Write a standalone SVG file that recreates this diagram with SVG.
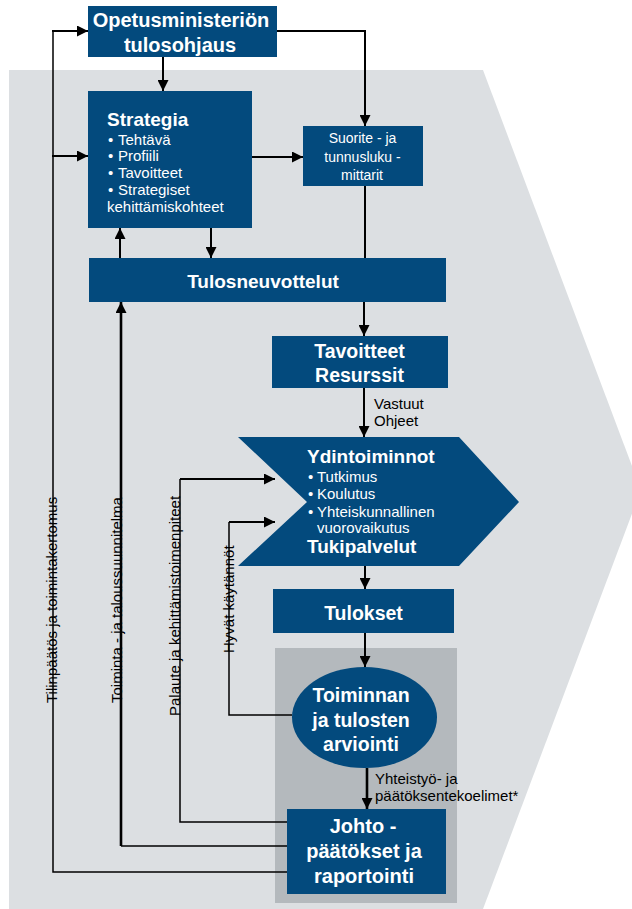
<svg xmlns="http://www.w3.org/2000/svg" width="632" height="909" viewBox="0 0 632 909">
<style>
.box{fill:#034a7d}
.t{font-family:"Liberation Sans",Arial,sans-serif;fill:#fff}
.b{font-weight:bold;font-size:19.5px}
.n{font-size:15px}
.s{font-size:14px}
.lbl{font-family:"Liberation Sans",Arial,sans-serif;font-size:15px;fill:#000}
.c{fill:none;stroke:#000;stroke-width:2}
.thin{fill:none;stroke:#000;stroke-width:1.5}
.thick{fill:none;stroke:#000;stroke-width:2.6}
</style>
<defs>
<marker id="ah" markerUnits="userSpaceOnUse" markerWidth="11" markerHeight="11" refX="11" refY="5.5" orient="auto">
<path d="M0,0 L11,5.5 L0,11 z" fill="#000"/>
</marker>
</defs>
<rect width="632" height="909" fill="#fff"/>
<polygon id="background" points="9,70 483,70 641,490 483,909 9,909" fill="#dcdfe2"/>
<rect id="evaluation-area" x="275" y="648" width="182" height="255" fill="#b4b9bd"/>

<g id="connectors">
<path class="c" d="M163,57 V91" marker-end="url(#ah)"/>
<path class="c" d="M277,31 H365 V126" marker-end="url(#ah)"/>
<path class="c" d="M252,157 H303" marker-end="url(#ah)"/>
<path class="thin" d="M287,872 H53 V31"/>
<path class="c" d="M52,31 H88" marker-end="url(#ah)"/>
<path class="c" d="M52,156 H88" marker-end="url(#ah)"/>
<path class="c" d="M120,258 V228" marker-end="url(#ah)"/>
<path class="c" d="M211,228 V258" marker-end="url(#ah)"/>
<path class="c" d="M365,186 V258"/>
<path class="c" d="M364,302 V336" marker-end="url(#ah)"/>
<path class="c" d="M364,388 V437" marker-end="url(#ah)"/>
<path class="c" d="M365,566 V589" marker-end="url(#ah)"/>
<path class="c" d="M365,633 V667" marker-end="url(#ah)"/>
<path class="thick" d="M367,768 V809" marker-end="url(#ah)"/>
<path class="thin" d="M287,846 H121"/>
<path class="thick" d="M121,846 V302" marker-end="url(#ah)"/>
<path class="thin" d="M287,822 H180 V479"/>
<path class="c" d="M180,479 H275" marker-end="url(#ah)"/>
<path class="thin" d="M292,715 H229 V522"/>
<path class="c" d="M229,522 H275" marker-end="url(#ah)"/>
<text class="lbl" x="374" y="409">Vastuut</text>
<text class="lbl" x="374" y="426">Ohjeet</text>
<text class="lbl" x="375" y="784">Yhteistyö- ja</text>
<text class="lbl" x="375" y="801">päätöksentekoelimet*</text>
<text class="lbl" transform="translate(57,703) rotate(-90)">Tilinpäätös ja toimintakertomus</text>
<text class="lbl" transform="translate(122,703) rotate(-90)">Toiminta - ja taloussuunnitelma</text>
<text class="lbl" transform="translate(180,716) rotate(-90)">Palaute ja kehittämistoimenpiteet</text>
<text class="lbl" transform="translate(234,653) rotate(-90)">Hyvät käytännöt</text>
</g>

<g id="opetusministerio">
<rect class="box" x="88" y="6" width="189" height="51"/>
<text class="t b" x="181" y="27" text-anchor="middle" style="font-size:20px">Opetusministeriön</text>
<text class="t b" x="180" y="52" text-anchor="middle" style="font-size:20px">tulosohjaus</text>
</g>

<g id="strategia">
<rect class="box" x="88" y="91" width="164" height="137"/>
<text class="t b" x="107" y="126" style="font-size:19px">Strategia</text>
<text class="t n" x="108" y="145">•</text><text class="t n" x="118" y="145">Tehtävä</text>
<text class="t n" x="108" y="161">•</text><text class="t n" x="118" y="161">Profiili</text>
<text class="t n" x="108" y="178">•</text><text class="t n" x="118" y="178">Tavoitteet</text>
<text class="t n" x="108" y="195">•</text><text class="t n" x="118" y="195">Strategiset</text>
<text class="t n" x="107" y="212">kehittämiskohteet</text>
</g>

<g id="suorite">
<rect class="box" x="303" y="126" width="120" height="60"/>
<text class="t s" x="362.5" y="143" text-anchor="middle">Suorite - ja</text>
<text class="t s" x="362.5" y="162" text-anchor="middle">tunnusluku -</text>
<text class="t s" x="362" y="180" text-anchor="middle">mittarit</text>
</g>

<g id="tulosneuvottelut">
<rect class="box" x="89" y="258" width="357" height="44"/>
<text class="t b" x="263" y="288" text-anchor="middle" style="font-size:19px">Tulosneuvottelut</text>
</g>

<g id="tavoitteet">
<rect class="box" x="272" y="336" width="176" height="52"/>
<text class="t b" x="359.5" y="358" text-anchor="middle">Tavoitteet</text>
<text class="t b" x="359.5" y="382" text-anchor="middle">Resurssit</text>
</g>

<g id="ydintoiminnot">
<polygon class="box" points="238,437 459,437 519,502 459,566 238,566 307,502"/>
<text class="t b" x="307" y="463" style="font-size:19px">Ydintoiminnot</text>
<text class="t n" x="308" y="482">•</text><text class="t n" x="317" y="482">Tutkimus</text>
<text class="t n" x="308" y="499">•</text><text class="t n" x="317" y="499">Koulutus</text>
<text class="t n" x="308" y="517">•</text><text class="t n" x="317" y="517">Yhteiskunnallinen</text>
<text class="t n" x="317" y="533">vuorovaikutus</text>
<text class="t b" x="307" y="553" style="font-size:19px">Tukipalvelut</text>
</g>

<g id="tulokset">
<rect class="box" x="273" y="589" width="181" height="44"/>
<text class="t b" x="363.5" y="620" text-anchor="middle">Tulokset</text>
</g>

<g id="arviointi">
<ellipse class="box" cx="364.5" cy="717.5" rx="72.5" ry="50.5"/>
<text class="t b" x="361" y="702" text-anchor="middle">Toiminnan</text>
<text class="t b" x="361" y="727" text-anchor="middle">ja tulosten</text>
<text class="t b" x="361" y="751" text-anchor="middle">arviointi</text>
</g>

<g id="johto">
<rect class="box" x="287" y="809" width="159" height="85"/>
<text class="t b" x="363" y="833" text-anchor="middle" style="font-size:20px">Johto -</text>
<text class="t b" x="364" y="858" text-anchor="middle" style="font-size:20px">päätökset ja</text>
<text class="t b" x="364" y="883" text-anchor="middle" style="font-size:20px">raportointi</text>
</g>
</svg>
